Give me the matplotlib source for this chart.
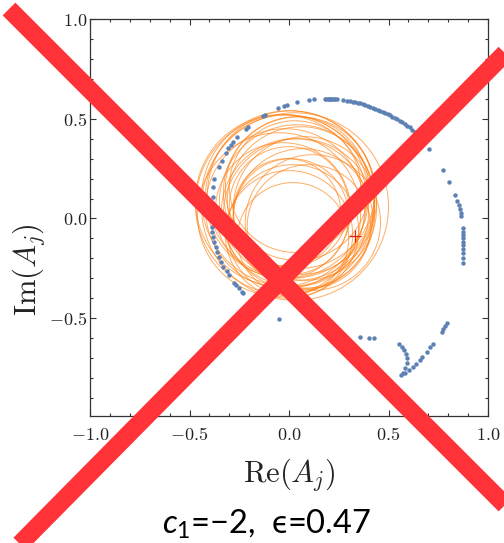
import numpy as np
import matplotlib
matplotlib.use("Agg")
import matplotlib.pyplot as plt
from matplotlib.lines import Line2D
from matplotlib.ticker import MultipleLocator

# math text: Computer Modern for the axes, Lato for the caption
plt.rcParams['mathtext.fontset'] = 'cm'
plt.rcParams['mathtext.rm'] = 'Lato'
plt.rcParams['mathtext.it'] = 'Lato:italic'

# 1. Data
# orange trajectories (circles): centre x, centre y, radius
circle_cx = [0.00, 0.03, -0.02, 0.05, 0.01, -0.03, 0.04, 0.07, -0.01, 0.03,
             0.00, 0.08, -0.04, 0.02, 0.05, 0.01, -0.02, 0.04, 0.10, 0.00,
             0.06, -0.01, 0.03, 0.12, 0.02, -0.05]
circle_cy = [0.10, 0.06, 0.07, 0.02, 0.12, 0.04, 0.08, 0.00, 0.11, 0.03,
             0.06, 0.05, 0.09, -0.06, 0.13, 0.01, 0.05, 0.15, -0.04, -0.08,
             0.09, 0.03, 0.16, -0.02, -0.10, 0.02]
circle_r = [0.44, 0.47, 0.45, 0.38, 0.42, 0.34, 0.39, 0.35, 0.41, 0.37,
            0.30, 0.36, 0.43, 0.33, 0.38, 0.29, 0.40, 0.36, 0.31, 0.32,
            0.37, 0.27, 0.33, 0.34, 0.28, 0.41]

# blue points
dots_re = [-0.376, -0.353, -0.338, -0.317, -0.305, -0.293, -0.280, -0.260, -0.218, -0.205,
           -0.132, -0.122, -0.057, -0.025, -0.008, 0.042, 0.100, 0.127, 0.181, 0.188,
           0.195, 0.200, 0.205, 0.210, 0.215, 0.225, 0.232, 0.240, 0.273, 0.290,
           0.307, 0.320, 0.332, 0.345, 0.357, 0.370, 0.382, 0.395, 0.407, 0.420,
           0.432, 0.445, 0.457, 0.470, 0.483, 0.495, 0.508, 0.520, 0.533, 0.545,
           0.558, 0.570, 0.583, 0.595, 0.608, 0.620, 0.633, 0.704,
           0.775, 0.806, 0.836, 0.846, 0.853, 0.859, 0.864, 0.864, 0.876, 0.876,
           0.876, 0.876, 0.876, 0.876, 0.876, 0.876, 0.876, 0.876,
           0.792, 0.784, 0.775, 0.767, 0.722, 0.709, 0.692, 0.670, 0.658, 0.638,
           0.625, 0.603, 0.583, 0.563, 0.571, 0.583, 0.591, 0.591, 0.588, 0.578,
           0.566, 0.553, 0.429, 0.402, 0.357, -0.049,
           -0.230, -0.238, -0.250, -0.266, -0.275, -0.300, -0.310, -0.330, -0.340, -0.350,
           -0.360, -0.368, -0.376, -0.380, -0.386, -0.389, -0.390, -0.388, -0.384, -0.380]
dots_im = [0.200, 0.257, 0.288, 0.330, 0.352, 0.368, 0.385, 0.407, 0.447, 0.460,
           0.514, 0.520, 0.552, 0.564, 0.570, 0.584, 0.594, 0.597, 0.599, 0.600,
           0.600, 0.600, 0.600, 0.600, 0.600, 0.599, 0.599, 0.599, 0.592, 0.590,
           0.587, 0.585, 0.583, 0.580, 0.577, 0.573, 0.569, 0.565, 0.560, 0.556,
           0.551, 0.546, 0.540, 0.535, 0.529, 0.523, 0.517, 0.511, 0.504, 0.497,
           0.490, 0.482, 0.474, 0.466, 0.457, 0.446, 0.435, 0.348,
           0.243, 0.185, 0.116, 0.090, 0.070, 0.050, 0.030, 0.013, -0.049, -0.066,
           -0.083, -0.099, -0.116, -0.133, -0.153, -0.175, -0.200, -0.225,
           -0.522, -0.539, -0.556, -0.570, -0.631, -0.646, -0.668, -0.696, -0.709, -0.731,
           -0.743, -0.759, -0.776, -0.786, -0.776, -0.751, -0.723, -0.700, -0.679, -0.659,
           -0.642, -0.629, -0.600, -0.599, -0.596, -0.504,
           -0.375, -0.367, -0.350, -0.333, -0.322, -0.283, -0.265, -0.242, -0.217, -0.191,
           -0.166, -0.141, -0.116, -0.091, -0.066, -0.041, 0.000, 0.060, 0.110, 0.160]

marker_re = [0.332]
marker_im = [-0.09]

x_ticks = [-1.0, -0.5, 0.0, 0.5, 1.0]
x_tick_labels = [r'$-1.0$', r'$-0.5$', r'$0.0$', r'$0.5$', r'$1.0$']
y_ticks = [-0.5, 0.0, 0.5, 1.0]
y_tick_labels = [r'$-0.5$', r'$0.0$', r'$0.5$', r'$1.0$']

# 2. Figure and axes
fig = plt.figure(figsize=(5.04, 5.43), dpi=100)
ax = fig.add_axes([90 / 504, 1 - 416 / 543, 398 / 504, 397 / 543])

t = np.linspace(0, 2 * np.pi, 300)
for cx, cy, r in zip(circle_cx, circle_cy, circle_r):
    ax.plot(cx + r * np.cos(t), cy + r * np.sin(t), color='#ff8010', lw=0.7, alpha=0.65)

ax.plot(dots_re, dots_im, 'o', color='#5e81b5', ms=3.2, mew=0, zorder=3)
ax.plot(marker_re, marker_im, '+', color='#e02010', ms=9, mew=0.9, zorder=4)

ax.set_xlim(-1.0, 1.0)
ax.set_ylim(-0.99, 1.0)
ax.set_xticks(x_ticks, x_tick_labels)
ax.set_yticks(y_ticks, y_tick_labels)
ax.xaxis.set_minor_locator(MultipleLocator(0.1))
ax.yaxis.set_minor_locator(MultipleLocator(0.1))
ax.tick_params(which='both', direction='in', top=True, right=True, color='#333333', width=0.8)
ax.tick_params(which='major', length=4.5, labelsize=13, labelcolor='#222222')
ax.tick_params(which='minor', length=2.5)
ax.tick_params(axis='x', pad=7)
ax.tick_params(axis='y', pad=2)
for s in ax.spines.values():
    s.set_color('#333333')
    s.set_linewidth(0.9)

# 3. Labels
fig.text(289 / 504, 1 - 475 / 543, r'$\mathrm{Re}(A_j)$', fontsize=22,
         ha='center', va='center', color='#222222')
fig.text(29 / 504, 1 - 270 / 543, r'$\mathrm{Im}(A_j)$', fontsize=22, rotation=90,
         ha='center', va='center', color='#222222')
fig.text(267 / 504, 1 - 524 / 543, '$c_1$=\u22122,  \u03f5=0.47', fontsize=23.5,
         family=['Lato', 'DejaVu Sans'], ha='center', va='center', color='black',
         math_fontfamily='custom')

# 4. Red cross over the whole picture
red = '#ff3338'
fig.add_artist(Line2D([9 / 504, 545 / 504], [1 - 9 / 543, 1 - 545 / 543],
                      transform=fig.transFigure, color=red, lw=13, solid_capstyle='butt'))
fig.add_artist(Line2D([520 / 504, 10 / 504], [1 - 38 / 543, 1 - 554 / 543],
                      transform=fig.transFigure, color=red, lw=13, solid_capstyle='butt'))

fig.savefig('out.png', dpi=100)
